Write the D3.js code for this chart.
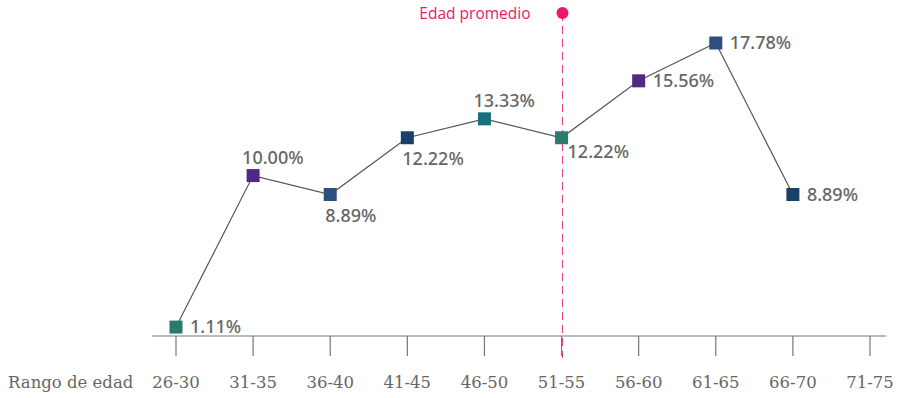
<!DOCTYPE html>
<html>
<head>
<meta charset="utf-8">
<script src="https://cdn.jsdelivr.net/npm/d3@7"></script>
<style>
  body { margin: 0; background: #fff; }
</style>
</head>
<body>
<div id="chart"></div>
<script>
const ranges = ["26-30", "31-35", "36-40", "41-45", "46-50", "51-55", "56-60", "61-65", "66-70", "71-75"]
const pointRanges = ["26-30", "31-35", "36-40", "41-45", "46-50", "51-55", "56-60", "61-65", "66-70"]
const percents = [1.11, 10.00, 8.89, 12.22, 13.33, 12.22, 15.56, 17.78, 8.89]
const markerColors = ["#2b7a6e", "#4e2a84", "#2e4f7e", "#1a4068", "#17707f", "#2e7a6e", "#4e2a84", "#2e4f7e", "#1a4068"]
// where each value label sits relative to its marker
const labelPos = ["right", "above", "below", "below", "above", "belowRight", "right", "right", "right"]
const meanRange = "51-55"

const width = 900, height = 398
const axisY = 336

const x = d3.scalePoint()
  .domain(ranges)
  .range([176, 870])

const y = d3.scaleLinear()
  .domain([0, 17.78])
  .range([346, 43])

const svg = d3.select("#chart").append("svg")
  .attr("width", width)
  .attr("height", height)

// x axis
const axis = svg.append("g")
  .attr("transform", `translate(0,${axisY})`)
axis.append("line")
  .attr("x1", 152).attr("x2", 886)
  .attr("stroke", "#777").attr("stroke-width", 1.2)
axis.selectAll("line.tick")
  .data(ranges)
  .join("line")
    .attr("class", "tick")
    .attr("x1", d => x(d)).attr("x2", d => x(d))
    .attr("y1", 0).attr("y2", 20)
    .attr("stroke", "#777").attr("stroke-width", 1.2)
axis.selectAll("text")
  .data(ranges)
  .join("text")
    .attr("x", d => x(d))
    .attr("y", 52)
    .attr("text-anchor", "middle")
    .attr("font-family", "DejaVu Serif, serif")
    .attr("font-size", 16.5)
    .attr("fill", "#666")
    .text(d => d)
svg.append("text")
  .attr("x", 8).attr("y", axisY + 52)
  .attr("font-family", "DejaVu Serif, serif")
  .attr("font-size", 16.5)
  .attr("fill", "#666")
  .text("Rango de edad")

// mean age marker
const mx = Math.round(x(meanRange)) + 0.5
svg.append("line")
  .attr("x1", mx).attr("x2", mx)
  .attr("y1", 13).attr("y2", 358)
  .attr("stroke", "#ee3d86")
  .attr("stroke-width", 1)
  .attr("stroke-dasharray", "8,5")
svg.append("circle")
  .attr("cx", mx).attr("cy", 13).attr("r", 6)
  .attr("fill", "#e8196e")
svg.append("text")
  .attr("x", mx - 32).attr("y", 19)
  .attr("text-anchor", "end")
  .attr("font-family", "Open Sans, sans-serif")
  .attr("font-size", 15.5)
  .attr("fill", "#e8196e")
  .text("Edad promedio")

const points = pointRanges.map((r, i) => ({range: r, value: percents[i], color: markerColors[i], pos: labelPos[i]}))

// line
svg.append("path")
  .datum(points)
  .attr("fill", "none")
  .attr("stroke", "#555")
  .attr("stroke-width", 1.2)
  .attr("d", d3.line().x(d => x(d.range)).y(d => y(d.value)))

// markers
const s = 13
svg.selectAll("rect.marker")
  .data(points)
  .join("rect")
    .attr("class", "marker")
    .attr("x", d => x(d.range) - s / 2)
    .attr("y", d => y(d.value) - s / 2)
    .attr("width", s).attr("height", s)
    .attr("fill", d => d.color)

// value labels
const fmt = d => d.toFixed(2) + "%"
const dx = {right: 14, above: -11, below: -5, belowRight: 6}
const dy = {right: 6, above: -12, below: 27, belowRight: 20}
svg.selectAll("text.val")
  .data(points)
  .join("text")
    .attr("class", "val")
    .attr("font-family", "Noto Sans, Open Sans, sans-serif")
    .attr("font-size", 18)
    .attr("font-weight", 500)
    .attr("fill", "#666")
    .attr("x", d => x(d.range) + dx[d.pos])
    .attr("y", d => y(d.value) + dy[d.pos])
    .text(d => fmt(d.value))
</script>
</body>
</html>
